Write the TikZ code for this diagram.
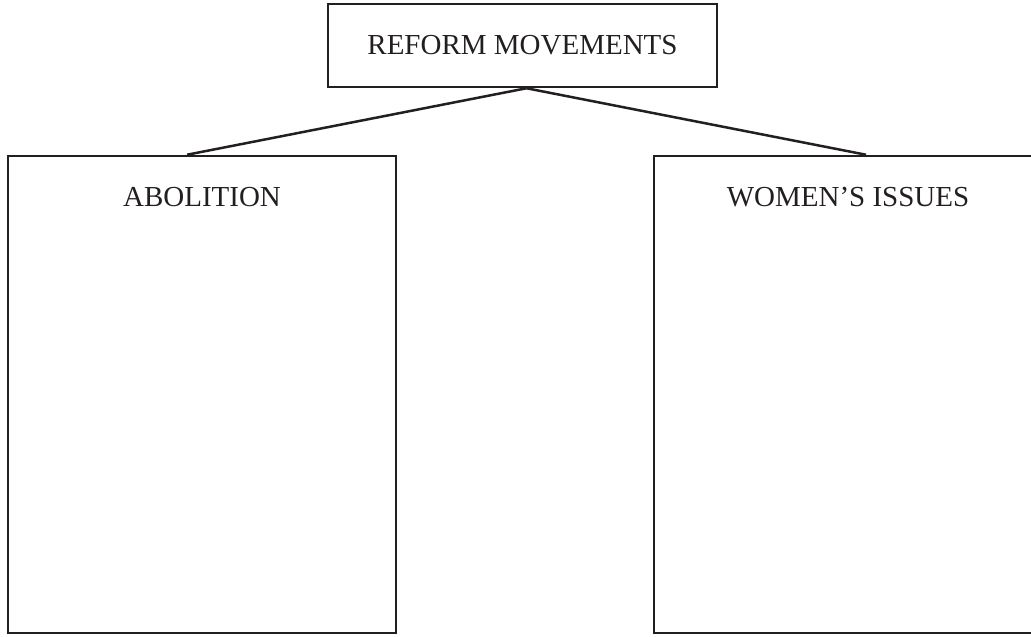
\documentclass[tikz,border=0pt]{standalone}
\usepackage{fontspec}
\setmainfont{Liberation Serif}
\usepackage{tikz}
\usetikzlibrary{positioning}
\definecolor{ink}{RGB}{35, 31, 32}
\tikzstyle{topbox} = [rectangle, draw=ink, line width=1.25pt, minimum width=194.5pt, minimum height=41.5pt, text=ink, font=\fontsize{14.5}{17}\selectfont]
\tikzstyle{catbox} = [rectangle, draw=ink, line width=1.25pt, minimum width=194pt, minimum height=238.5pt, inner sep=0pt]
\tikzstyle{cattext} = [text=ink, font=\fontsize{14.5}{17}\selectfont, inner sep=0pt]
\tikzstyle{tedge}  = [draw=ink, line width=1.25pt]

\begin{document}
\begin{tikzpicture}[x=0.5pt, y=-0.5pt]
\useasboundingbox (0,0) rectangle (1031,636);

% boxes =============================
\node[topbox] (reform) at (522.5,45.5) {REFORM MOVEMENTS};
\node[catbox] (abol) at (202,394.5) {};
\node[catbox] (women) at (848,394.5) {};

% titles
\node[cattext, below=16pt of abol.north] (aboltxt) {ABOLITION};
\node[cattext, below=16pt of women.north] (womentxt) {WOMEN’S ISSUES};

%edges
\path[tedge] ([xshift=2pt]reform.south) -- ([xshift=-7.5pt]abol.north);
\path[tedge] ([xshift=2pt]reform.south) -- ([xshift=9pt]women.north);

\end{tikzpicture}
\end{document}
